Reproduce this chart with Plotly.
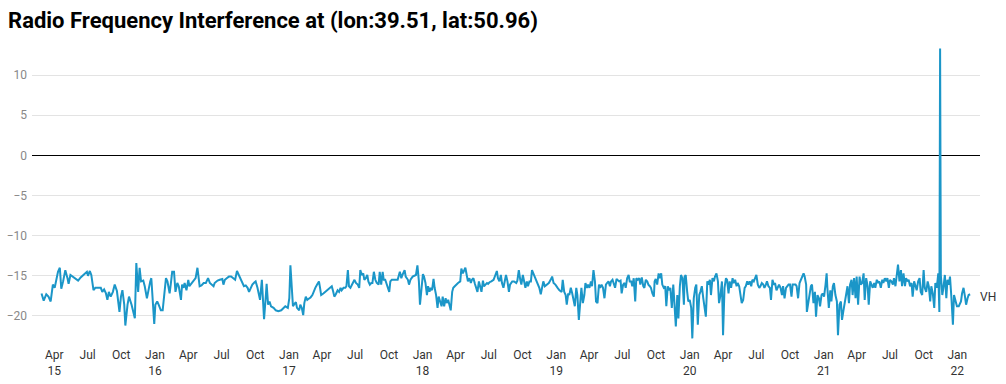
import pandas as pd
import plotly.graph_objects as go

TITLE = "Radio Frequency Interference at (lon:39.51, lat:50.96)"
SERIES_NAME = "VH"
BASE_DATE = "2015-01-01"

# Acquisition day offsets (days since BASE_DATE) and VH RFI values
days_a = [55, 61, 68, 74, 80, 86, 91, 96, 100, 105,
          109, 114, 120, 126, 129, 134, 141, 150, 155, 162,
          173, 179, 182, 187, 191, 197, 202, 210, 217, 221,
          226, 231, 235, 239, 244, 250, 255, 261, 264, 268,
          272, 276, 281, 284, 290, 294, 301, 306, 310, 314,
          319, 323, 327, 333, 337, 343, 346, 352, 355, 359,
          363, 366, 371, 375, 381, 386, 390, 395, 399, 405,
          408, 412, 417, 421, 426, 430, 436, 439, 443, 446,
          451, 456, 459, 465, 470, 476, 481, 487, 492, 498,
          504, 510, 515, 519, 525, 528, 536, 542, 549, 552,
          556, 561]
vh_a = [-17.2, -18.1, -17.3, -17.6, -18.2, -16.1, -16.5, -15.3, -14.5, -14.0,
        -16.6, -15.7, -14.3, -15.3, -16.0, -14.9, -15.1, -15.4, -15.6, -15.2,
        -14.8, -14.5, -15.0, -14.4, -14.9, -16.8, -16.5, -16.5, -16.5, -17.0,
        -16.7, -17.2, -18.0, -17.0, -17.6, -17.0, -16.1, -16.9, -18.2, -19.5,
        -17.6, -16.8, -18.6, -21.2, -18.6, -17.6, -18.6, -19.5, -20.3, -13.4,
        -17.0, -14.0, -15.7, -15.6, -16.3, -17.8, -17.0, -15.7, -15.3, -17.8,
        -21.0, -18.6, -18.2, -18.6, -19.3, -19.3, -17.0, -15.3, -15.7, -17.2,
        -16.1, -14.5, -14.5, -17.0, -15.9, -16.3, -18.0, -16.1, -16.5, -15.9,
        -16.8, -15.5, -16.3, -15.9, -15.6, -15.3, -14.0, -16.3, -16.2, -15.9,
        -15.9, -15.3, -15.9, -16.1, -16.3, -15.9, -15.6, -15.5, -15.4, -16.1,
        -15.5, -15.3]

days_b = [567, 573, 578, 584, 589, 595, 600, 604, 608, 613,
          618, 622, 627, 631, 637, 640, 645, 649, 652, 657,
          660, 663, 668, 670, 674, 678, 682, 689, 695, 702,
          710, 716, 721, 728, 732, 735, 739, 742, 746, 750,
          753, 759, 762, 766, 770, 773, 777, 781, 784, 790,
          795, 799, 803, 808, 813, 816, 819, 825, 830, 837,
          843, 848, 852, 855, 859, 864, 868, 872, 875, 880,
          885, 888, 892, 895, 899, 903, 906, 910, 914, 919,
          923, 926, 930, 934, 937, 941, 945, 948, 952, 956,
          959, 963, 967, 971, 976, 979, 983, 987, 990, 994,
          997, 1001, 1005, 1008, 1012, 1018, 1023, 1028, 1034, 1038,
          1041, 1047, 1050, 1056, 1059, 1063, 1069, 1074]
vh_b = [-15.1, -15.1, -15.3, -15.5, -14.4, -15.0, -15.3, -15.8, -16.3, -16.2,
        -16.5, -17.0, -16.5, -16.1, -15.8, -15.7, -16.5, -17.3, -18.0, -15.5,
        -18.6, -20.4, -17.4, -16.0, -18.6, -18.2, -18.8, -19.0, -19.3, -19.4,
        -19.3, -19.0, -18.8, -19.0, -17.8, -13.7, -17.0, -18.8, -18.5, -18.3,
        -19.0, -19.3, -18.6, -19.0, -19.9, -18.4, -17.6, -18.0, -17.9, -17.7,
        -17.4, -16.8, -16.5, -16.1, -15.7, -16.5, -17.4, -17.2, -17.0, -16.8,
        -16.5, -16.3, -17.0, -17.6, -17.3, -16.8, -17.0, -16.5, -16.8, -16.5,
        -16.5, -16.3, -14.3, -16.3, -16.5, -16.1, -15.7, -15.5, -15.9, -16.1,
        -16.5, -14.3, -14.9, -14.7, -15.5, -15.3, -14.9, -15.7, -16.1, -15.9,
        -15.9, -14.5, -15.5, -15.9, -16.1, -14.5, -16.1, -14.5, -15.5, -15.5,
        -15.9, -16.5, -17.0, -15.7, -15.5, -15.5, -15.5, -15.5, -14.5, -15.3,
        -14.9, -14.3, -15.1, -15.5, -16.1, -15.5, -15.1, -15.0]

days_c = [1078, 1082, 1086, 1089, 1093, 1097, 1100, 1104, 1108, 1111,
          1115, 1118, 1122, 1126, 1129, 1133, 1137, 1140, 1144, 1148,
          1151, 1155, 1159, 1162, 1166, 1169, 1173, 1177, 1180, 1184,
          1188, 1193, 1199, 1202, 1206, 1210, 1213, 1217, 1220, 1224,
          1228, 1231, 1235, 1239, 1242, 1246, 1250, 1253, 1257, 1261,
          1264, 1268, 1272, 1275, 1279, 1284, 1290, 1295, 1299, 1302,
          1306, 1310, 1313, 1317, 1321, 1324, 1328, 1332, 1335, 1341,
          1346, 1352, 1355, 1359, 1363, 1366, 1370, 1374, 1377, 1381,
          1384, 1388, 1392, 1395, 1401, 1406, 1412, 1415, 1419, 1423,
          1426, 1430, 1435, 1441, 1446, 1450, 1454, 1459, 1465, 1470,
          1476, 1479, 1483, 1487, 1490, 1494, 1497, 1501, 1505, 1508,
          1512, 1516, 1519, 1523, 1527, 1530, 1534, 1538, 1541, 1545,
          1548, 1552, 1556, 1559, 1563, 1567, 1570, 1574, 1578, 1581,
          1585]
vh_c = [-14.9, -13.7, -15.7, -18.6, -16.1, -14.8, -15.1, -15.9, -17.4, -16.3,
        -17.0, -16.5, -16.8, -15.4, -16.5, -17.4, -19.0, -17.6, -18.2, -18.8,
        -17.6, -18.8, -17.8, -18.4, -18.0, -18.6, -19.3, -17.0, -16.5, -16.3,
        -16.1, -15.9, -15.7, -14.1, -14.7, -14.4, -14.0, -15.0, -15.7, -15.3,
        -15.9, -15.5, -15.3, -16.0, -16.5, -17.0, -15.7, -16.3, -17.0, -15.6,
        -16.3, -16.1, -15.9, -16.0, -15.8, -15.7, -15.5, -14.9, -14.4, -15.3,
        -15.7, -14.9, -15.9, -16.5, -15.5, -14.9, -15.7, -17.0, -16.1, -15.7,
        -15.7, -15.9, -15.6, -14.3, -15.5, -16.1, -14.9, -15.9, -16.5, -15.7,
        -16.3, -15.7, -15.7, -14.3, -14.9, -15.5, -16.1, -16.5, -17.3, -16.3,
        -15.7, -16.3, -16.1, -15.9, -15.5, -15.1, -15.9, -16.1, -16.5, -16.8,
        -17.0, -15.5, -17.0, -17.4, -18.6, -17.2, -17.4, -16.5, -17.2, -17.8,
        -18.8, -16.5, -17.4, -20.5, -17.8, -16.5, -18.4, -17.4, -15.9, -16.5,
        -16.1, -16.5, -15.7, -16.3, -14.3, -15.7, -18.2, -18.4, -16.1, -16.5,
        -16.1]

days_d = [1589, 1593, 1597, 1600, 1604, 1608, 1611, 1615, 1618, 1622,
          1626, 1629, 1633, 1637, 1640, 1644, 1648, 1651, 1655, 1659,
          1662, 1666, 1669, 1673, 1677, 1680, 1684, 1688, 1691, 1695,
          1699, 1702, 1706, 1710, 1713, 1717, 1720, 1724, 1728, 1730,
          1733, 1737, 1741, 1744, 1748, 1751, 1755, 1759, 1762, 1766,
          1770, 1773, 1777, 1781, 1784, 1788, 1792, 1795, 1799, 1802,
          1806, 1810, 1812, 1815, 1819, 1822, 1826, 1830, 1833, 1837,
          1841, 1844, 1848, 1852, 1855, 1859, 1863, 1866, 1870, 1874,
          1877, 1881, 1884, 1888, 1892, 1895, 1899, 1903, 1906, 1910,
          1914, 1917, 1921, 1925, 1928, 1932, 1935, 1939, 1943, 1946,
          1950, 1954, 1957, 1961, 1965, 1968, 1972, 1976, 1979, 1983,
          1986, 1990, 1994, 1997, 2001, 2005, 2008, 2012, 2016, 2019,
          2023, 2027, 2030, 2034, 2037, 2041, 2045, 2048, 2052, 2056,
          2059, 2063, 2067, 2070, 2074, 2078, 2081, 2085, 2089, 2092,
          2096]
vh_d = [-16.5, -17.8, -16.1, -15.9, -15.7, -16.3, -15.7, -15.5, -15.9, -16.5,
        -15.4, -15.5, -15.7, -15.6, -17.2, -16.1, -15.9, -16.5, -15.3, -14.9,
        -15.7, -15.7, -16.3, -15.3, -18.2, -15.3, -15.5, -15.3, -16.1, -15.2,
        -16.3, -16.5, -15.5, -15.7, -16.1, -16.3, -16.5, -17.2, -17.6, -15.7,
        -15.4, -16.1, -14.7, -15.3, -14.7, -16.1, -16.5, -16.3, -18.8, -16.3,
        -16.8, -16.5, -19.0, -16.1, -18.6, -21.3, -17.4, -20.3, -16.3, -14.9,
        -15.3, -18.6, -15.1, -14.9, -17.0, -18.2, -18.0, -19.0, -22.8, -17.8,
        -16.5, -16.1, -21.1, -17.4, -17.0, -16.3, -17.8, -18.6, -20.1, -15.7,
        -16.1, -15.5, -17.4, -15.3, -15.7, -15.1, -14.7, -15.7, -18.4, -17.4,
        -15.7, -22.4, -16.5, -15.3, -15.5, -17.2, -15.7, -16.5, -15.3, -15.9,
        -15.5, -16.3, -15.9, -16.3, -17.6, -18.4, -18.0, -16.5, -16.3, -15.7,
        -16.1, -15.7, -16.3, -15.5, -15.7, -15.3, -14.9, -16.1, -16.5, -16.3,
        -15.9, -16.1, -16.5, -16.1, -15.7, -16.3, -16.5, -18.0, -15.5, -16.1,
        -15.9, -16.8, -16.3, -16.1, -16.5, -17.4, -16.3, -17.8, -16.5, -16.3,
        -16.1]

days_e = [2100, 2104, 2107, 2111, 2115, 2118, 2122, 2126, 2129, 2133,
          2137, 2140, 2144, 2146, 2149, 2153, 2157, 2160, 2164, 2168,
          2171, 2175, 2179, 2182, 2186, 2189, 2193, 2197, 2200, 2202,
          2206, 2210, 2213, 2217, 2220, 2224, 2228, 2231, 2235, 2239,
          2242, 2246, 2250, 2253, 2257, 2261, 2264, 2268, 2271, 2275,
          2279, 2282, 2286, 2290, 2293, 2297, 2301, 2304, 2308, 2312,
          2315, 2319, 2322, 2326, 2330, 2333, 2337, 2341, 2344, 2348,
          2352, 2355, 2359, 2363, 2366, 2370, 2373, 2377, 2381, 2384,
          2388, 2392, 2395, 2399, 2403, 2406, 2410, 2414, 2417, 2421,
          2424, 2428, 2432, 2435, 2439, 2443, 2446, 2450, 2454, 2457,
          2461, 2465, 2468, 2472, 2476, 2479, 2483, 2486, 2490, 2494,
          2497, 2501, 2505, 2508, 2510, 2512, 2516, 2519, 2523, 2527,
          2530, 2534, 2537, 2541, 2545, 2548, 2552, 2556, 2561, 2567,
          2570, 2574, 2578, 2581, 2585, 2588, 2592]
vh_e = [-16.1, -17.6, -16.1, -16.1, -16.1, -16.3, -17.8, -15.9, -15.5, -15.1,
        -14.7, -15.1, -16.1, -19.5, -18.6, -17.0, -16.3, -16.1, -18.4, -17.0,
        -20.1, -17.4, -17.8, -18.8, -17.4, -17.2, -17.6, -16.1, -14.7, -16.5,
        -19.0, -16.8, -18.2, -16.3, -15.9, -17.4, -18.2, -22.4, -18.6, -18.2,
        -20.5, -19.3, -18.2, -17.0, -16.3, -18.4, -16.1, -15.5, -17.4, -15.3,
        -17.8, -15.1, -18.6, -15.1, -16.1, -15.9, -14.7, -18.0, -15.3, -16.3,
        -18.6, -15.7, -16.1, -16.5, -15.9, -16.5, -15.5, -15.9, -15.7, -16.5,
        -15.5, -15.9, -15.3, -15.7, -15.3, -16.5, -15.5, -15.7, -16.1, -15.3,
        -16.3, -14.7, -13.6, -15.7, -14.3, -16.3, -14.7, -16.3, -15.3, -15.7,
        -15.5, -16.3, -15.9, -17.6, -15.7, -16.3, -16.8, -15.7, -15.3, -17.0,
        -17.4, -14.3, -16.5, -17.0, -15.7, -16.3, -18.2, -16.3, -17.2, -19.0,
        -15.9, -16.5, -14.7, -19.5, 13.3, -14.9, -17.4, -16.5, -14.9, -17.8,
        -15.5, -16.1, -15.1, -17.8, -21.1, -17.4, -18.0, -18.8, -18.8, -18.2,
        -17.2, -16.5, -17.6, -18.6, -17.8, -17.4, -17.3]

tick_dates = ["2015-04-01", "2015-07-01", "2015-10-01",
              "2016-01-01", "2016-04-01", "2016-07-01", "2016-10-01",
              "2017-01-01", "2017-04-01", "2017-07-01", "2017-10-01",
              "2018-01-01", "2018-04-01", "2018-07-01", "2018-10-01",
              "2019-01-01", "2019-04-01", "2019-07-01", "2019-10-01",
              "2020-01-01", "2020-04-01", "2020-07-01", "2020-10-01",
              "2021-01-01", "2021-04-01", "2021-07-01", "2021-10-01",
              "2022-01-01"]
tick_labels = ["Apr<br>15", "Jul", "Oct",
               "Jan<br>16", "Apr", "Jul", "Oct",
               "Jan<br>17", "Apr", "Jul", "Oct",
               "Jan<br>18", "Apr", "Jul", "Oct",
               "Jan<br>19", "Apr", "Jul", "Oct",
               "Jan<br>20", "Apr", "Jul", "Oct",
               "Jan<br>21", "Apr", "Jul", "Oct",
               "Jan<br>22"]
y_ticks = [-20, -15, -10, -5, 0, 5, 10]
x_range = ["2015-01-30", "2022-03-04"]
y_range = [-23, 14]

days = days_a + days_b + days_c + days_d + days_e
values = vh_a + vh_b + vh_c + vh_d + vh_e
assert len(days) == len(values)
dates = pd.Timestamp(BASE_DATE) + pd.to_timedelta(days, unit="D")

FONT = "Roboto, 'Noto Sans', Arial, sans-serif"
LINE_COLOR = "#1b96c8"

fig = go.Figure()
fig.add_trace(go.Scatter(
    x=dates, y=values, mode="lines", name=SERIES_NAME,
    line=dict(color=LINE_COLOR, width=2), hoverinfo="skip",
))
fig.add_annotation(
    x=dates[-1], y=values[-1], xref="x", yref="y", text=SERIES_NAME,
    showarrow=False, xanchor="left", yanchor="middle", xshift=8, yshift=-3,
    font=dict(family=FONT, size=12, color="#333333"),
)
fig.update_layout(
    width=1006, height=384,
    margin=dict(l=32, r=26, t=43, b=44, autoexpand=False),
    paper_bgcolor="white", plot_bgcolor="white",
    showlegend=False,
    font=dict(family=FONT),
    title=dict(
        text=TITLE, x=0.008, xref="container", xanchor="left",
        y=1 - 20 / 384, yref="container", yanchor="middle",
        font=dict(family=FONT, size=22, color="#000000", weight="bold"),
    ),
    xaxis=dict(
        range=x_range, tickvals=tick_dates, ticktext=tick_labels,
        showgrid=False, zeroline=False, showline=False, ticks="",
        ticklabelstandoff=6, automargin=False,
        tickfont=dict(family=FONT, size=12, color="#333333"),
    ),
    yaxis=dict(
        range=y_range, tickvals=y_ticks, showgrid=True, gridcolor="#e3e3e3",
        gridwidth=1, zeroline=True, zerolinecolor="#000000", zerolinewidth=1,
        showline=False, ticks="", ticklabelstandoff=4, automargin=False,
        tickfont=dict(family=FONT, size=12, color="#888888"),
    ),
)
fig.write_html("out.html", config={"displayModeBar": False})
